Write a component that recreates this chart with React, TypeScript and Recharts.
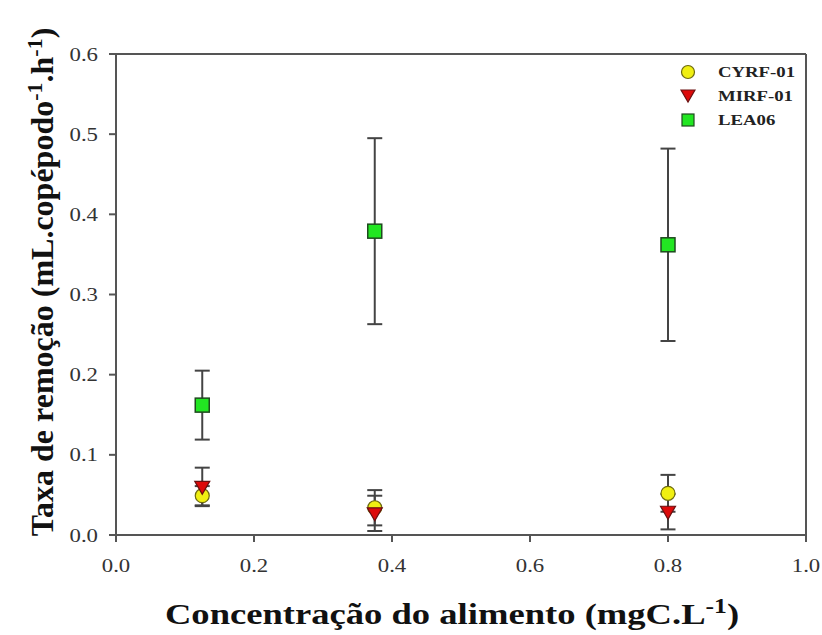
import React from "react";
import {
  ScatterChart,
  Scatter,
  XAxis,
  YAxis,
  ErrorBar,
  ReferenceLine,
  Label,
} from "recharts";

// concentrations (mgC/L)
const xValues = [0.125, 0.375, 0.8];

const cyrfY = [0.049, 0.034, 0.052];
const cyrfErr = [0.012, 0.022, 0.023];
const mirfY = [0.06, 0.027, 0.029];
const mirfErr = [0.024, 0.022, 0.022];
const leaY = [0.162, 0.379, 0.362];
const leaErr = [0.043, 0.116, 0.12];

const xTicks = [0, 0.2, 0.4, 0.6, 0.8, 1.0];
const yTicks = [0, 0.1, 0.2, 0.3, 0.4, 0.5, 0.6];

const SERIF = '"Liberation Serif", "Times New Roman", serif';
const AXIS = "#555";

const build = (ys: number[], errs: number[]) =>
  xValues.map((x, i) => ({ x, y: ys[i], err: errs[i] }));

const cyrf = build(cyrfY, cyrfErr);
const mirf = build(mirfY, mirfErr);
const lea = build(leaY, leaErr);

const COLORS = {
  cyrf: { fill: "#f0ef12", stroke: "#6d6a10" },
  mirf: { fill: "#dd0a0a", stroke: "#6a1010" },
  lea: { fill: "#22e622", stroke: "#1f4a1f" },
};

function Circle(props: any) {
  const { cx, cy } = props;
  return <circle cx={cx} cy={cy} r={7} fill={COLORS.cyrf.fill} stroke={COLORS.cyrf.stroke} strokeWidth={1.2} />;
}

function Tri(props: any) {
  const { cx, cy } = props;
  const w = 7.5;
  return (
    <polygon
      points={`${cx - w},${cy - 5.5} ${cx + w},${cy - 5.5} ${cx},${cy + 7.5}`}
      fill={COLORS.mirf.fill}
      stroke={COLORS.mirf.stroke}
      strokeWidth={1.2}
    />
  );
}

function Sq(props: any) {
  const { cx, cy } = props;
  return (
    <rect x={cx - 7} y={cy - 7} width={14} height={14} fill={COLORS.lea.fill} stroke={COLORS.lea.stroke} strokeWidth={1.5} />
  );
}

// stretched serif tick labels, like the source image
function Tick(props: any) {
  const { x, y, payload, textAnchor, isY } = props;
  return (
    <text
      transform={`translate(${x},${y}) scale(1.2,1)`}
      textAnchor={textAnchor}
      dy={isY ? "0.35em" : "0.71em"}
      fontFamily={SERIF}
      fontSize={19}
      fill="#333"
    >
      {Number(payload.value).toFixed(1)}
    </text>
  );
}

function LegendBox() {
  const items = [
    { name: "CYRF-01", icon: <circle cx={8} cy={8} r={6.5} fill={COLORS.cyrf.fill} stroke={COLORS.cyrf.stroke} strokeWidth={1.2} /> },
    { name: "MIRF-01", icon: <polygon points="1,2 15,2 8,14" fill={COLORS.mirf.fill} stroke={COLORS.mirf.stroke} strokeWidth={1.2} /> },
    { name: "LEA06", icon: <rect x={2} y={2} width={12} height={12} fill={COLORS.lea.fill} stroke={COLORS.lea.stroke} strokeWidth={1.2} /> },
  ];
  return (
    <div
      style={{
        position: "absolute",
        left: 680,
        top: 60,
        fontFamily: SERIF,
        fontWeight: "bold",
        fontSize: 15,
        color: "#222",
      }}
    >
      {items.map((it) => (
        <div key={it.name} style={{ display: "flex", alignItems: "center", height: 24 }}>
          <svg width={16} height={16} style={{ marginRight: 22 }}>
            {it.icon}
          </svg>
          <span style={{ display: "inline-block", transform: "scaleX(1.25)", transformOrigin: "left center" }}>
            {it.name}
          </span>
        </div>
      ))}
    </div>
  );
}

export default function App() {
  return (
    <div style={{ position: "absolute", left: 0, top: 0, width: 822, height: 635, background: "#fff" }}>
      <ScatterChart width={822} height={635} margin={{ top: 54, right: 16, bottom: 0, left: 0 }}>
        <XAxis
          type="number"
          dataKey="x"
          domain={[0, 1]}
          ticks={xTicks}
          height={100}
          tickSize={7}
          tickMargin={17}
          axisLine={{ stroke: AXIS, strokeWidth: 2 }}
          tickLine={{ stroke: AXIS, strokeWidth: 2 }}
          tick={<Tick />}
        >
          <Label
            content={() => (
              <text
                x={0}
                y={0}
                transform="translate(452,624) scale(1.22,1)"
                textAnchor="middle"
                fontFamily={SERIF}
                fontWeight="bold"
                fontSize={30}
                fill="#111"
              >
                Concentração do alimento (mgC.L
                <tspan dy={-11} fontSize={21}>-1</tspan>
                <tspan dy={11}>)</tspan>
              </text>
            )}
          />
        </XAxis>
        <YAxis
          type="number"
          dataKey="y"
          domain={[0, 0.6]}
          ticks={yTicks}
          width={116}
          tickSize={7}
          tickMargin={11}
          axisLine={{ stroke: AXIS, strokeWidth: 2 }}
          tickLine={{ stroke: AXIS, strokeWidth: 2 }}
          tick={<Tick isY />}
        >
          <Label
            content={() => (
              <text
                x={0}
                y={0}
                transform="translate(53,282) rotate(-90)"
                textAnchor="middle"
                fontFamily={SERIF}
                fontWeight="bold"
                fontSize={32}
                fill="#111"
              >
                Taxa de remoção (mL.copépodo
                <tspan dy={-11} fontSize={22}>-1</tspan>
                <tspan dy={11}>.h</tspan>
                <tspan dy={-11} fontSize={22}>-1</tspan>
                <tspan dy={11}>)</tspan>
              </text>
            )}
          />
        </YAxis>
        <ReferenceLine y={0.6} stroke={AXIS} strokeWidth={2} />
        <ReferenceLine x={1} stroke={AXIS} strokeWidth={2} />
        <Scatter name="CYRF-01" data={cyrf} shape={<Circle />} isAnimationActive={false}>
          <ErrorBar dataKey="err" direction="y" width={7.5} stroke="#444" strokeWidth={2} />
        </Scatter>
        <Scatter name="MIRF-01" data={mirf} shape={<Tri />} isAnimationActive={false}>
          <ErrorBar dataKey="err" direction="y" width={7.5} stroke="#444" strokeWidth={2} />
        </Scatter>
        <Scatter name="LEA06" data={lea} shape={<Sq />} isAnimationActive={false}>
          <ErrorBar dataKey="err" direction="y" width={7.5} stroke="#444" strokeWidth={2} />
        </Scatter>
      </ScatterChart>
      <LegendBox />
    </div>
  );
}
